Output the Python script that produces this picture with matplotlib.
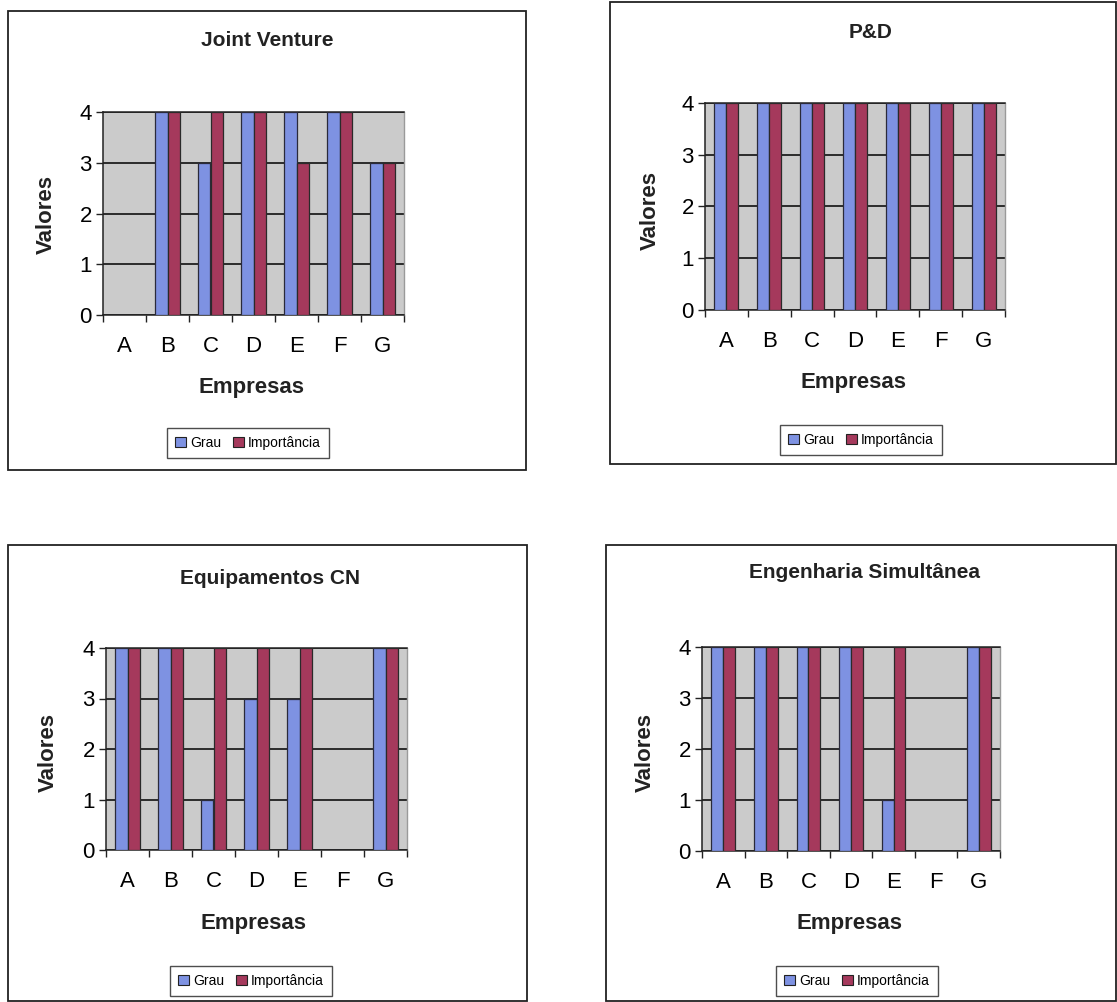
import matplotlib
matplotlib.use("Agg")
import matplotlib.pyplot as plt
from matplotlib.patches import Rectangle, Patch
import numpy as np

plt.rcParams['font.family'] = ['Liberation Sans', 'DejaVu Sans']

empresas = ['A', 'B', 'C', 'D', 'E', 'F', 'G']
series_names = ['Grau', 'Importância']

titles = ['Joint Venture', 'P&D', 'Equipamentos CN', 'Engenharia Simultânea']
grau = [
    [0, 4, 3, 4, 4, 4, 3],
    [4, 4, 4, 4, 4, 4, 4],
    [4, 4, 1, 3, 3, 0, 4],
    [4, 4, 4, 4, 1, 0, 4],
]
importancia = [
    [0, 4, 4, 4, 3, 4, 3],
    [4, 4, 4, 4, 4, 4, 4],
    [4, 4, 4, 4, 4, 0, 4],
    [4, 4, 4, 4, 4, 0, 4],
]

W, H = 1117, 1002
fig = plt.figure(figsize=(W / 100, H / 100), dpi=100)
fig.patch.set_facecolor('white')

# pixel layouts for each panel: frame, plot area, title, ylabel, xlabel, legend center
panels = [
    dict(frame=(8, 11, 526, 470), plot=(103, 112, 404, 315), title=(267, 40),
         ylab=(46, 215), xlab=(251, 387), leg=(248, 443)),
    dict(frame=(610, 2, 1116, 464), plot=(705, 103, 1005, 310), title=(871, 32),
         ylab=(650, 210), xlab=(853, 382), leg=(861, 440)),
    dict(frame=(8, 545, 527, 1001), plot=(106, 648, 407, 850), title=(270, 578),
         ylab=(48, 752), xlab=(254, 923), leg=(251, 981)),
    dict(frame=(606, 545, 1116, 1001), plot=(702, 647, 1000, 851), title=(865, 573),
         ylab=(645, 752), xlab=(850, 923), leg=(857, 981)),
]

blue = '#7e92e2'
red = '#a5395c'
bg = '#cbcbcb'

def fx(px):
    return px / W

def fy(py):
    return 1 - py / H

for i, p in enumerate(panels):
    x0, y0, x1, y1 = p['frame']
    fig.patches.append(Rectangle((fx(x0), fy(y1)), fx(x1) - fx(x0), fy(y0) - fy(y1),
                                 transform=fig.transFigure, fill=False,
                                 edgecolor='#222222', lw=1.3))

    l, t, r, b = p['plot']
    ax = fig.add_axes([fx(l), fy(b), fx(r) - fx(l), fy(t) - fy(b)])
    ax.set_facecolor(bg)
    x = np.arange(len(empresas))
    w = 0.28
    ax.bar(x - w / 2, grau[i], w, color=blue, edgecolor='#2a2a3a', lw=0.9, zorder=3)
    ax.bar(x + w / 2, importancia[i], w, color=red, edgecolor='#2a2a2a', lw=0.9, zorder=3)

    ax.set_xlim(-0.5, len(empresas) - 0.5)
    ax.set_ylim(0, 4)
    ax.set_yticks([0, 1, 2, 3, 4])
    ax.yaxis.grid(True, color='black', lw=1.1, zorder=1)
    ax.set_axisbelow(True)

    ax.set_xticks(x)
    ax.set_xticklabels(empresas, fontsize=16)
    ax.set_xticks(np.arange(-0.5, len(empresas)), minor=True)
    ax.tick_params(axis='x', which='major', length=0, pad=15)
    ax.tick_params(axis='x', which='minor', length=5, width=1, direction='out', color='#222222')
    ax.tick_params(axis='y', length=5, width=1, direction='out', labelsize=16, pad=3, color='#222222')

    for s in ['left', 'bottom', 'top']:
        ax.spines[s].set_color('#222222')
        ax.spines[s].set_linewidth(1.1)
    ax.spines['right'].set_color('#9a9a9a')
    ax.spines['right'].set_linewidth(1.0)

    fig.text(fx(p['title'][0]), fy(p['title'][1]), titles[i], ha='center', va='center',
             fontsize=15, fontweight='bold', color='#222222')
    fig.text(fx(p['ylab'][0]), fy(p['ylab'][1]), 'Valores', ha='center', va='center',
             rotation=90, fontsize=16, fontweight='bold', color='#222222')
    fig.text(fx(p['xlab'][0]), fy(p['xlab'][1]), 'Empresas', ha='center', va='center',
             fontsize=16, fontweight='bold', color='#222222')

    handles = [Patch(facecolor=blue, edgecolor='#222222', lw=0.8),
               Patch(facecolor=red, edgecolor='#222222', lw=0.8)]
    leg = fig.legend(handles, series_names, loc='center', ncol=2,
                     bbox_to_anchor=(fx(p['leg'][0]), fy(p['leg'][1])),
                     fontsize=10, frameon=True, fancybox=False, shadow=False,
                     handlelength=0.8, handleheight=0.8, handletextpad=0.3,
                     columnspacing=0.8, borderpad=0.6)
    leg.get_frame().set_edgecolor('#222222')
    leg.get_frame().set_linewidth(1.0)

fig.savefig('out.png', dpi=100)
